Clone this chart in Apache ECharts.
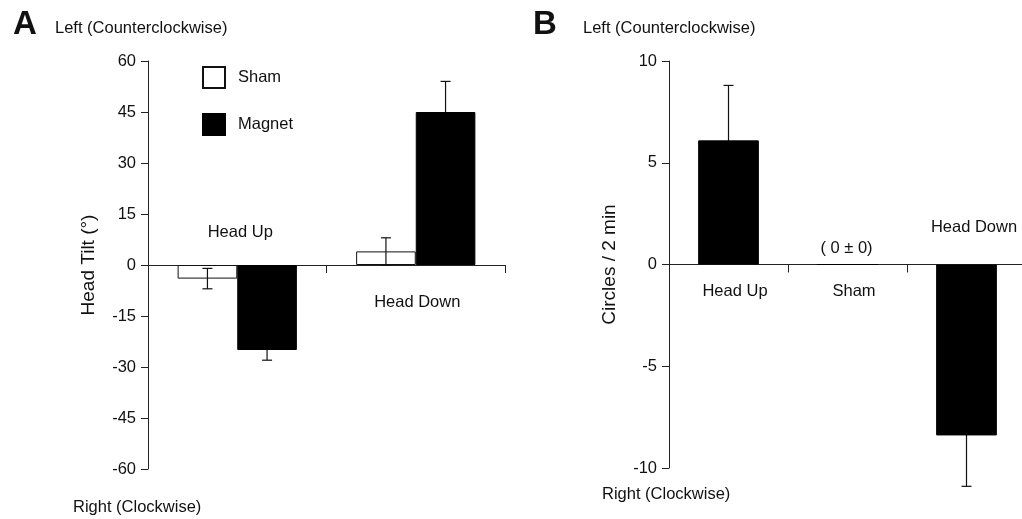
<!DOCTYPE html>
<html><head><meta charset="utf-8">
<script src="https://cdn.jsdelivr.net/npm/echarts@6/dist/echarts.min.js"></script>
<style>html,body{margin:0;padding:0;background:#fff}#c{width:1022px;height:519px}</style>
</head><body><div id="c"></div>
<script>
// ---- Panel A data: head tilt (degrees) ----
const tiltCategories = ['Head Up', 'Head Down'];
const tiltSham = [-4, 4];
const tiltShamErr = [3, 4];
const tiltMagnet = [-25, 45];
const tiltMagnetErr = [3, 9];
const tiltTicks = [-60, -45, -30, -15, 0, 15, 30, 45, 60];

// ---- Panel B data: circles / 2 min ----
const circleCategories = ['Head Up', 'Sham', 'Head Down'];
const circleValues = [6.1, 0, -8.4];
const circleErr = [2.7, 0, 2.5];
const circleTicks = [-10, -5, 0, 5, 10];

const FONT = '"Liberation Sans", Arial, Helvetica, sans-serif';
const FS = 16.5;
const INK = '#111';
const LINE = '#222';

const chart = echarts.init(document.getElementById('c'));

function yAxisCfg(gridIndex, ticks, name) {
  return {
    type: 'value', gridIndex,
    min: ticks[0], max: ticks[ticks.length - 1], interval: ticks[1] - ticks[0],
    name, nameLocation: 'middle', nameGap: 50,
    nameTextStyle: { fontFamily: FONT, fontSize: 19, color: INK },
    axisLine: { show: true, lineStyle: { color: LINE, width: 1 } },
    axisTick: { show: true, length: 7, lineStyle: { color: LINE, width: 1 } },
    axisLabel: { margin: 12, fontFamily: FONT, fontSize: FS, color: INK },
    splitLine: { show: false }
  };
}
function xAxisCfg(gridIndex, cats) {
  return {
    type: 'category', gridIndex, data: cats,
    axisLine: { show: true, onZero: true, lineStyle: { color: LINE, width: 1 } },
    axisTick: { show: true, length: 8, interval: 0, alignWithLabel: false, lineStyle: { color: LINE, width: 1 } },
    axisLabel: { show: false },
    splitLine: { show: false }
  };
}
function errorSeries(xi, values, errs, offsetFrac) {
  return {
    type: 'custom', xAxisIndex: xi, yAxisIndex: xi, z: 3, silent: true,
    data: values.map((v, i) => [i, v - errs[i], v + errs[i]]),
    encode: { x: 0, y: [1, 2] },
    renderItem(params, api) {
      const i = api.value(0);
      const lo = api.value(1), hi = api.value(2);
      if (lo === hi) return null;
      const pLo = api.coord([i, lo]);
      const pHi = api.coord([i, hi]);
      const bw = api.size([1, 0])[0];
      const x = pLo[0] + bw * offsetFrac;
      const cap = 10;
      const style = { stroke: INK, lineWidth: 1.2 };
      return {
        type: 'group', children: [
          { type: 'line', shape: { x1: x, y1: pLo[1], x2: x, y2: pHi[1] }, style },
          { type: 'line', shape: { x1: x - cap / 2, y1: pLo[1], x2: x + cap / 2, y2: pLo[1] }, style },
          { type: 'line', shape: { x1: x - cap / 2, y1: pHi[1], x2: x + cap / 2, y2: pHi[1] }, style }
        ]
      };
    }
  };
}

const option = {
  animation: false,
  backgroundColor: '#fff',
  textStyle: { fontFamily: FONT },
  grid: [
    { left: 148, top: 61, width: 357, bottom: 50, containLabel: false, outerBoundsMode: 'none' },
    { left: 669, top: 61, width: 357, bottom: 51, containLabel: false, outerBoundsMode: 'none' }
  ],
  legend: {
    data: ['Sham', 'Magnet'], orient: 'vertical', left: 202, top: 66, padding: 0,
    itemWidth: 22, itemHeight: 21, itemGap: 24, icon: 'rect', selectedMode: false,
    textStyle: { fontFamily: FONT, fontSize: FS, color: INK, padding: [0, 0, 0, 8] }
  },
  xAxis: [xAxisCfg(0, tiltCategories), xAxisCfg(1, circleCategories)],
  yAxis: [yAxisCfg(0, tiltTicks, 'Head Tilt (°)'), yAxisCfg(1, circleTicks, 'Circles / 2 min')],
  series: [
    { name: 'Sham', type: 'bar', xAxisIndex: 0, yAxisIndex: 0, data: tiltSham, z: 2,
      barWidth: '33.4%', barGap: '0%',
      itemStyle: { color: '#fff', borderColor: INK, borderWidth: 1 } },
    { name: 'Magnet', type: 'bar', xAxisIndex: 0, yAxisIndex: 0, data: tiltMagnet, z: 4,
      barWidth: '33.4%', barGap: '0%',
      itemStyle: { color: '#000', borderColor: '#000', borderWidth: 1 } },
    errorSeries(0, tiltSham, tiltShamErr, -0.167),
    errorSeries(0, tiltMagnet, tiltMagnetErr, 0.167),
    { name: 'Circles', type: 'bar', xAxisIndex: 1, yAxisIndex: 1, data: circleValues, z: 4,
      barWidth: '51%',
      itemStyle: { color: '#000', borderColor: '#000', borderWidth: 1 } },
    errorSeries(1, circleValues, circleErr, 0)
  ]
};
chart.setOption(option);

// Category labels placed relative to each category's position on the zero line
const catLabels = [
  { grid: 0, cat: 0, text: 'Head Up', dx: 3, dy: -33 },
  { grid: 0, cat: 1, text: 'Head Down', dx: 1.5, dy: 37 },
  { grid: 1, cat: 0, text: 'Head Up', dx: 6.5, dy: 27 },
  { grid: 1, cat: 1, text: 'Sham', dx: 6.5, dy: 27 },
  { grid: 1, cat: 2, text: 'Head Down', dx: 7.5, dy: -37 },
  { grid: 1, cat: 1, text: '( 0 ± 0)', dx: -1, dy: -16 }
];
const textStyle = (t, extra) => Object.assign({ text: t, fill: INK, font: FS + 'px ' + FONT }, extra || {});
const graphics = catLabels.map(l => {
  const p = chart.convertToPixel({ gridIndex: l.grid }, [l.cat, 0]);
  return { type: 'text', x: p[0] + l.dx, y: p[1] + l.dy,
    style: textStyle(l.text, { align: 'center', verticalAlign: 'middle' }) };
});
graphics.push(
  { type: 'text', x: 13, y: 25, style: textStyle('A', { font: 'bold 33px ' + FONT, verticalAlign: 'middle' }) },
  { type: 'text', x: 533, y: 25, style: textStyle('B', { font: 'bold 33px ' + FONT, verticalAlign: 'middle' }) },
  { type: 'text', x: 55, y: 28, style: textStyle('Left (Counterclockwise)', { verticalAlign: 'middle' }) },
  { type: 'text', x: 583, y: 28, style: textStyle('Left (Counterclockwise)', { verticalAlign: 'middle' }) },
  { type: 'text', x: 73, y: 507, style: textStyle('Right (Clockwise)', { verticalAlign: 'middle' }) },
  { type: 'text', x: 602, y: 494, style: textStyle('Right (Clockwise)', { verticalAlign: 'middle' }) }
);
chart.setOption({ graphic: graphics });
</script>
</body></html>
